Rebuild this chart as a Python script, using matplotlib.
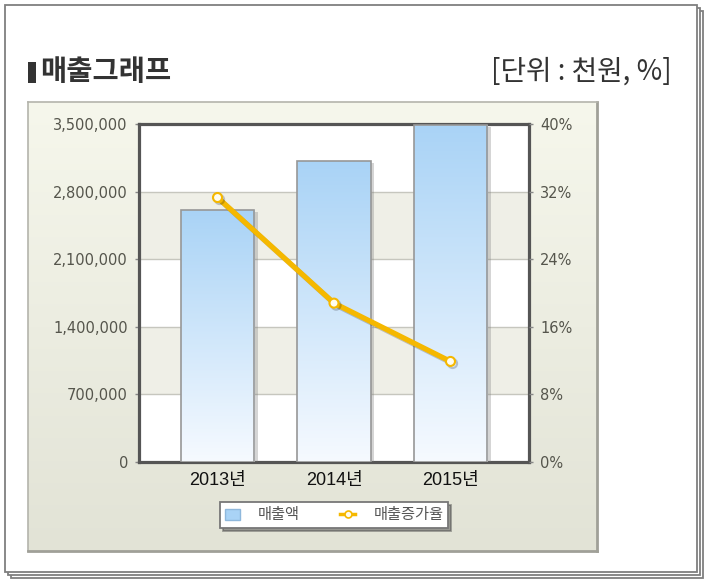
import matplotlib
matplotlib.use('Agg')
import matplotlib.pyplot as plt
import numpy as np
from matplotlib.patches import Rectangle, Patch
from matplotlib.lines import Line2D
from matplotlib.colors import LinearSegmentedColormap
import matplotlib.patheffects as pe

# ---- data ----
years = ['2013년', '2014년', '2015년']
sales = [2610000, 3115000, 3490000]          # 매출액 (천원)
growth = [31.3, 18.8, 11.9]                  # 매출증가율 (%)
left_ticks = [0, 700000, 1400000, 2100000, 2800000, 3500000]
right_ticks = [0, 8, 16, 24, 32, 40]
title = '매출그래프'
unit = '[단위 : 천원, %]'
legend_labels = ['매출액', '매출증가율']

KR = ['Noto Sans CJK KR', 'DejaVu Sans']
LAT_KR = ['Liberation Sans', 'Noto Sans CJK KR']

W, H = 708, 584
fig = plt.figure(figsize=(W / 100, H / 100), dpi=100)
fig.patch.set_facecolor('white')


def fr(x, y, w, h):
    return (x / W, 1 - (y + h) / H, w / W, h / H)


# ---- stacked paper frames ----
for off, z in [(6, -6), (3, -5), (0, -4)]:
    x0, y0, w0, h0 = fr(5 + off, 5 + off, 692, 567)
    fig.patches.append(Rectangle((x0, y0), w0, h0, transform=fig.transFigure,
                                 facecolor='white', edgecolor='#7f7f7f',
                                 lw=1.3, zorder=z))

# ---- chart panel with gradient ----
pax = fig.add_axes(fr(28, 102, 569, 449))
pax.set_zorder(-1)
grad = np.linspace(0, 1, 256).reshape(-1, 1)
pcmap = LinearSegmentedColormap.from_list('p', ['#E2E3D6', '#F6F7EC'])
pax.imshow(grad, origin='lower', aspect='auto', cmap=pcmap, extent=(0, 1, 0, 1))
pax.set_xlim(0, 1)
pax.set_ylim(0, 1)
pax.set_xticks([])
pax.set_yticks([])
for s in pax.spines.values():
    s.set_color('#b4b4ac')
    s.set_linewidth(1.2)
pax.spines['bottom'].set_color('#a0a098')
pax.spines['right'].set_color('#a0a098')
pax.spines['bottom'].set_linewidth(2)
pax.spines['right'].set_linewidth(2)

# ---- title ----
tx, ty, tw, th = fr(28, 62, 8, 21)
fig.patches.append(Rectangle((tx, ty), tw, th, transform=fig.transFigure,
                             facecolor='#333333', edgecolor='none', zorder=3))
fig.text(40 / W, 1 - 72 / H, title, family=KR, fontsize=20.5, fontweight='bold',
         color='#333333', va='center', ha='left')
fig.text(672 / W, 1 - 72 / H, unit, family=KR, fontsize=20, color='#333333',
         va='center', ha='right')

# ---- main axes ----
ax = fig.add_axes(fr(139, 124, 390, 338))
ax.set_zorder(1)
ax.set_facecolor('white')
x = np.arange(len(years))
ax.set_xlim(-0.674, len(years) - 1 + 0.674)
ax.set_ylim(left_ticks[0], left_ticks[-1])

# alternating bands
for i in range(1, len(left_ticks) - 1, 2):
    ax.axhspan(left_ticks[i], left_ticks[i + 1], color='#EFEFE7', zorder=0, lw=0)
for t in left_ticks[1:-1]:
    ax.axhline(t, color='#C6C6BE', lw=1, zorder=0.5)

bars = ax.bar(x, sales, width=0.63, facecolor='white', edgecolor='none', zorder=3,
              path_effects=[pe.SimplePatchShadow(offset=(2.5, -1.5), shadow_rgbFace='#777777', alpha=0.3),
                            pe.Normal()])
bcmap = LinearSegmentedColormap.from_list('b', ['#F6FAFF', '#A9D3F6'])
for b in bars:
    x0, y0, bw, bh = b.get_x(), b.get_y(), b.get_width(), b.get_height()
    im = ax.imshow(grad, origin='lower', aspect='auto', cmap=bcmap,
                   extent=(x0, x0 + bw, y0, y0 + bh), zorder=3.5)
    im.set_clip_path(b)
    ax.add_patch(Rectangle((x0, y0), bw, bh, fill=False, edgecolor='#979797',
                           lw=1.2, zorder=4))
ax.set_xlim(-0.674, len(years) - 1 + 0.674)
ax.set_ylim(left_ticks[0], left_ticks[-1])

ax.set_yticks(left_ticks)
ax.set_yticklabels([f'{v:,}' for v in left_ticks])
ax.set_xticks(x)
ax.set_xticklabels(years)
for lab in ax.get_xticklabels():
    lab.set_family(LAT_KR)
    lab.set_fontsize(13)
    lab.set_color('#111111')
ax.tick_params(axis='x', length=0, pad=7)
ax.tick_params(axis='y', length=3, width=1, color='#888888', pad=5,
               labelsize=10.5, labelcolor='#55554c')
for s in ax.spines.values():
    s.set_color('#555555')
    s.set_linewidth(2.3)

# ---- secondary axis ----
ax2 = ax.twinx()
ax2.set_zorder(2)
ax2.patch.set_visible(False)
ax2.set_ylim(right_ticks[0], right_ticks[-1])
ax2.set_yticks(right_ticks)
ax2.set_yticklabels([f'{v}%' for v in right_ticks])
ax2.tick_params(axis='y', length=3, width=1, color='#888888', pad=5,
                labelsize=10.5, labelcolor='#55554c')
for s in ax2.spines.values():
    s.set_visible(False)
line_color = '#F5B800'
ax2.plot(x, growth, color=line_color, lw=3.8, marker='o', ms=6.5,
         mfc='#FFFDF0', mec=line_color, mew=1.5, zorder=5, solid_capstyle='round',
         path_effects=[pe.SimpleLineShadow(offset=(1.5, -1.5), alpha=0.2), pe.Normal()])

# ---- legend ----
handles = [Patch(facecolor='#A9D3F6', edgecolor='#8fb8dc'),
           Line2D([0], [0], color=line_color, lw=2.5, marker='o', ms=5,
                  mfc='#FFFDF0', mec=line_color, mew=1.2)]
leg = fig.legend(handles, legend_labels, loc='center',
                 bbox_to_anchor=(334 / W, 1 - 515 / H), ncol=2, frameon=True,
                 fancybox=False, shadow=True, edgecolor='#777777',
                 framealpha=1, columnspacing=2.6, handlelength=1.0,
                 handletextpad=1.2, borderpad=0.3,
                 prop={'family': KR, 'size': 11})
leg.get_frame().set_linewidth(1.3)
for t in leg.get_texts():
    t.set_color('#555555')

fig.savefig('out.png', dpi=100)
